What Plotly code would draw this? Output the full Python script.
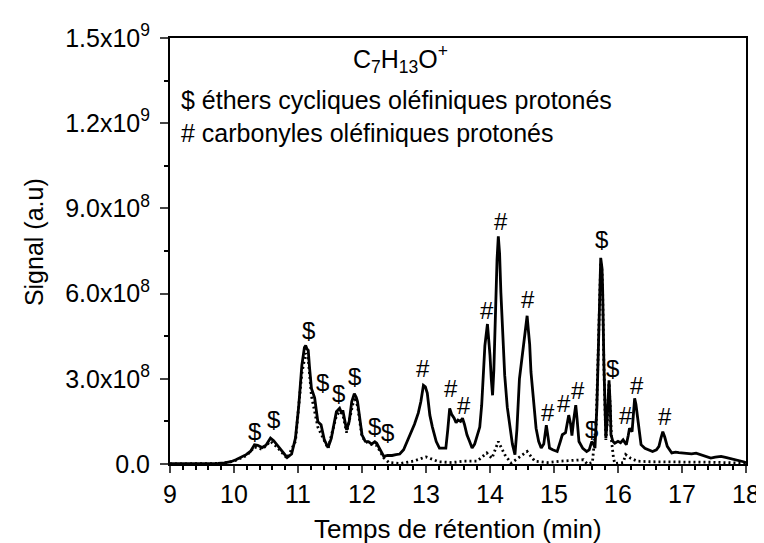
import numpy as np
import plotly.graph_objects as go

# Retention time (min) and signal (units of 1e8) - solid trace
t_solid = [9.0, 9.2, 9.4, 9.6, 9.75, 9.85, 9.95, 10.03, 10.1, 10.19, 10.26, 10.32, 10.37, 10.44, 10.5,
           10.57, 10.62, 10.67, 10.75, 10.83, 10.9, 10.96, 11.01, 11.06, 11.1, 11.12, 11.14, 11.16, 11.18,
           11.21, 11.26, 11.31, 11.36, 11.41, 11.47, 11.52, 11.57, 11.6, 11.65, 11.68, 11.7, 11.73, 11.76,
           11.8, 11.84, 11.88, 11.91, 11.93, 11.97, 12.0, 12.05, 12.1, 12.15, 12.2, 12.23, 12.28, 12.34,
           12.4, 12.47, 12.53, 12.59, 12.65, 12.7, 12.75, 12.82, 12.88, 12.92, 12.96, 12.99, 13.02, 13.06,
           13.1, 13.16, 13.21, 13.28, 13.31, 13.34, 13.37, 13.4, 13.44, 13.47, 13.5, 13.54, 13.57, 13.6,
           13.64, 13.68, 13.72, 13.76, 13.8, 13.84, 13.87, 13.9, 13.92, 13.96, 13.98, 14.0, 14.02, 14.04,
           14.06, 14.08, 14.11, 14.13, 14.15, 14.17, 14.2, 14.23, 14.27, 14.31, 14.35, 14.39, 14.42, 14.46,
           14.49, 14.51, 14.54, 14.56, 14.58, 14.6, 14.62, 14.64, 14.68, 14.72, 14.76, 14.8, 14.84, 14.88,
           14.91, 14.93, 14.98, 15.05, 15.1, 15.13, 15.18, 15.21, 15.23, 15.26, 15.28, 15.31, 15.34, 15.36,
           15.39, 15.45, 15.51, 15.55, 15.59, 15.62, 15.64, 15.67, 15.69, 15.71, 15.73, 15.75, 15.76, 15.78,
           15.81, 15.83, 15.86, 15.88, 15.89, 15.92, 15.95, 16.0, 16.04, 16.08, 16.13, 16.16, 16.18, 16.22,
           16.24, 16.26, 16.28, 16.31, 16.33, 16.36, 16.42, 16.48, 16.54, 16.6, 16.64, 16.67, 16.7, 16.73,
           16.77, 16.84, 16.9, 16.95, 17.05, 17.15, 17.22, 17.3, 17.38, 17.45, 17.52, 17.61, 17.68, 17.76,
           17.84, 17.91, 17.96, 18.0]
v_solid = [0.01, 0.01, 0.01, 0.01, 0.02, 0.04, 0.08, 0.15, 0.22, 0.33, 0.45, 0.68, 0.66, 0.58, 0.66,
           0.91, 0.82, 0.68, 0.42, 0.23, 0.35, 0.91, 2.0, 3.47, 4.1, 4.17, 4.05, 4.0, 3.4,
           2.66, 2.33, 1.49, 1.38, 0.86, 0.58, 0.9, 1.5, 1.84, 1.96, 1.8, 1.89, 1.5, 1.2,
           1.5, 2.2, 2.48, 2.35, 2.2, 1.5, 1.03, 0.8, 0.79, 0.7, 0.78, 0.73, 0.5, 0.27,
           0.3, 0.3, 0.33, 0.35, 0.5, 0.75, 1.03, 1.4, 1.8, 2.2, 2.77, 2.72, 2.5, 1.72,
           1.3, 0.79, 0.56, 0.55, 0.56, 1.2, 1.96, 1.75, 1.61, 1.45, 1.55, 1.5, 1.61, 1.4,
           1.03, 0.8, 0.56, 0.7, 1.03, 1.3, 2.07, 3.2, 4.17, 4.93, 4.4, 3.82, 3.0, 2.42,
           3.3, 4.98, 7.2, 8.02, 7.4, 6.04, 4.6, 3.12, 2.0, 1.26, 0.7, 0.33, 1.2, 3.0,
           3.6, 3.96, 4.6, 4.9, 5.22, 4.7, 4.2, 3.24, 2.1, 1.26, 0.8, 0.56, 0.7, 1.37,
           0.9, 0.56, 0.5, 0.44, 0.8, 1.03, 1.1, 1.5, 1.72, 1.4, 1.0, 1.6, 2.07, 1.6,
           0.79, 0.55, 0.44, 0.5, 0.79, 0.7, 0.56, 2.0, 3.82, 6.0, 7.26, 6.9, 6.15, 3.5,
           0.91, 1.5, 2.95, 2.0, 1.03, 0.8, 0.73, 0.8, 0.75, 0.85, 0.68, 1.0, 1.26, 1.14,
           1.6, 2.31, 2.1, 1.61, 1.1, 0.68, 0.55, 0.5, 0.44, 0.5, 0.62, 0.9, 1.14, 0.95,
           0.62, 0.39, 0.42, 0.4, 0.39, 0.36, 0.38, 0.33, 0.26, 0.21, 0.24, 0.27, 0.23, 0.19,
           0.16, 0.12, 0.08, 0.04]

# Dotted trace
t_dot = [9.0, 9.5, 9.8, 10.0, 10.2, 10.32, 10.44, 10.57, 10.67, 10.83, 10.96, 11.06, 11.12, 11.16, 11.21,
         11.31, 11.41, 11.47, 11.6, 11.65, 11.7, 11.76, 11.88, 11.93, 12.0, 12.1, 12.23, 12.34, 12.42,
         12.6, 12.8, 13.0, 13.2, 13.4, 13.6, 13.8, 13.95, 14.03, 14.13, 14.23, 14.33, 14.48, 14.58, 14.7,
         14.9, 15.1, 15.3, 15.46, 15.52, 15.6, 15.66, 15.69, 15.71, 15.73, 15.75, 15.76, 15.78, 15.81,
         15.83, 15.86, 15.88, 15.9, 15.93, 15.95, 16.08, 16.12, 16.2, 16.3, 16.5, 17.0, 17.5, 18.0]
v_dot = [0.0, 0.0, 0.02, 0.1, 0.3, 0.6, 0.52, 0.8, 0.6, 0.2, 0.8, 3.2, 3.9, 3.7, 2.4,
         1.3, 0.8, 0.55, 1.7, 1.85, 1.75, 1.1, 2.35, 2.05, 0.95, 0.72, 0.65, 0.22, 0.05,
         0.02, 0.1, 0.25, 0.08, 0.05, 0.1, 0.1, 0.39, 0.2, 0.79, 0.33, 0.03, 0.27, 0.44, 0.1,
         0.05, 0.1, 0.12, 0.15, 0.0, 0.05, 1.5, 3.6, 5.8, 7.1, 6.8, 6.0, 3.4, 0.85,
         1.4, 2.85, 1.9, 0.8, 0.2, 0.02, 0.05, 0.33, 0.2, 0.1, 0.08, 0.08, 0.06, 0.03]

# Peak labels: symbol, time, height (units of 1e8)
lab_sym = ["$", "$", "$", "$", "$", "$", "$", "$", "#", "#", "#", "#", "#", "#", "#", "#", "#",
           "$", "$", "$", "#", "#", "#"]
lab_t = [10.32, 10.61, 11.16, 11.39, 11.64, 11.89, 12.20, 12.40, 12.96, 13.39, 13.59, 13.95, 14.17,
         14.60, 14.91, 15.16, 15.38, 15.59, 15.74, 15.91, 16.12, 16.29, 16.73]
lab_v = [1.14, 1.55, 4.7, 2.87, 2.48, 3.07, 1.32, 1.12, 3.36, 2.66, 2.07, 5.4, 8.54,
         5.8, 1.82, 2.13, 2.6, 1.2, 7.9, 3.36, 1.72, 2.77, 1.67]

x_ticks = [9, 10, 11, 12, 13, 14, 15, 16, 17, 18]
y_tickvals = [0, 3e8, 6e8, 9e8, 1.2e9, 1.5e9]
y_ticktext = ["0.0", "3.0x10<sup>8</sup>", "6.0x10<sup>8</sup>", "9.0x10<sup>8</sup>",
              "1.2x10<sup>9</sup>", "1.5x10<sup>9</sup>"]

SCALE = 1e8
FONT = "Liberation Sans, Arial, sans-serif"

fig = go.Figure()
fig.add_trace(go.Scatter(x=t_dot, y=np.array(v_dot) * SCALE, mode="lines",
                         line=dict(color="black", width=2.8, dash="2px,3px"), showlegend=False))
fig.add_trace(go.Scatter(x=t_solid, y=np.array(v_solid) * SCALE, mode="lines",
                         line=dict(color="black", width=2.8), showlegend=False))

for s, t, v in zip(lab_sym, lab_t, lab_v):
    fig.add_annotation(x=t, y=v * SCALE, xref="x", yref="y", text=s, showarrow=False,
                       font=dict(size=24, family=FONT, color="black"),
                       xanchor="center", yanchor="middle", borderpad=0)

fig.add_annotation(x=0.4, y=0.95, xref="paper", yref="paper",
                   text="C<sub>7</sub>H<sub>13</sub>O<sup>+</sup>", showarrow=False,
                   font=dict(size=25, family=FONT, color="black"), xanchor="center", yanchor="middle")
fig.add_annotation(x=0.016, y=0.855, xref="paper", yref="paper",
                   text="$ éthers cycliques oléfiniques protonés", showarrow=False,
                   font=dict(size=25, family=FONT, color="black"), xanchor="left", yanchor="middle")
fig.add_annotation(x=0.016, y=0.776, xref="paper", yref="paper",
                   text="# carbonyles oléfiniques protonés", showarrow=False,
                   font=dict(size=25, family=FONT, color="black"), xanchor="left", yanchor="middle")

fig.add_annotation(x=0.5, y=-0.152, xref="paper", yref="paper",
                   text="Temps de rétention (min)", showarrow=False,
                   font=dict(size=26, family=FONT, color="black"), xanchor="center", yanchor="middle")
fig.add_annotation(x=-0.235, y=0.52, xref="paper", yref="paper",
                   text="Signal (a.u)", showarrow=False, textangle=-90,
                   font=dict(size=25, family=FONT, color="black"), xanchor="center", yanchor="middle")

fig.update_layout(
    width=764, height=543,
    margin=dict(l=162, r=16, t=27, b=87),
    paper_bgcolor="white", plot_bgcolor="white",
    font=dict(family=FONT, color="black", size=25),
    xaxis=dict(range=[9, 18], tickvals=x_ticks, ticks="outside", ticklen=7, tickwidth=2,
               showline=True, linewidth=2, linecolor="black", mirror=True, showgrid=False,
               zeroline=False, tickfont=dict(size=25),
               minor=dict(dtick=0.2, ticks="outside", ticklen=4, tickwidth=2, tickcolor="black",
                          showgrid=False)),
    yaxis=dict(range=[0, 1.5e9], tickvals=y_tickvals, ticktext=y_ticktext, ticks="outside",
               ticklen=8, tickwidth=2, showline=True, linewidth=2, linecolor="black", mirror=True,
               showgrid=False, zeroline=False, tickfont=dict(size=25), ticklabelstandoff=5,
               minor=dict(dtick=1.5e8, ticks="outside", ticklen=4, tickwidth=2, tickcolor="black",
                          showgrid=False)),
)

fig.write_html("out.html")
